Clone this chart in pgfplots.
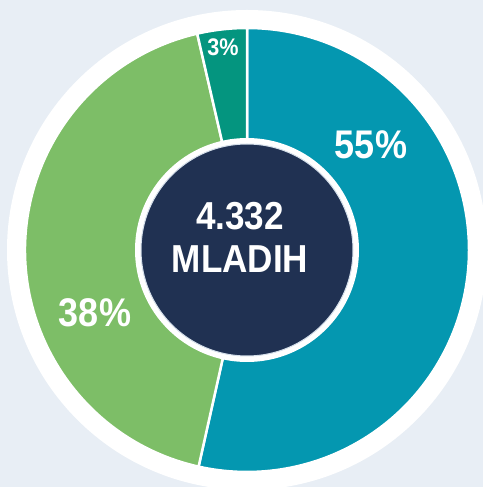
\documentclass[border=0pt]{standalone}
\usepackage{fontspec}
\setmainfont{Liberation Sans}
\usepackage{pgfplots}
\usepackage{pgfplotstable}
\pgfplotsset{compat=1.18}

\definecolor{bgc}{HTML}{E8EEF5}
\definecolor{cteal}{HTML}{0497B0}
\definecolor{cgreen}{HTML}{7DBE67}
\definecolor{cdark}{HTML}{04957F}
\definecolor{cnavy}{HTML}{203152}
\definecolor{cedge}{HTML}{D5DFEA}

% share of the circle as drawn (clockwise from 12 o'clock), printed label
\pgfplotstableread{
share label
53.5  55
42.9  38
3.6   3
}\slices

\pgfplotstablegetelem{0}{share}\of\slices \let\sA\pgfplotsretval
\pgfplotstablegetelem{1}{share}\of\slices \let\sB\pgfplotsretval
\pgfplotstablegetelem{2}{share}\of\slices \let\sC\pgfplotsretval
\pgfmathsetmacro\aA{90-3.6*\sA}
\pgfmathsetmacro\aB{\aA-3.6*\sB}
\pgfmathsetmacro\aC{\aB-3.6*\sC}

\newcommand{\lbl}[2]{\fontsize{#1}{#1}\selectfont\bfseries\scalebox{0.9}[1]{#2}}

\begin{document}
\begin{tikzpicture}
\begin{axis}[
    width=483pt, height=487pt,
    scale only axis,
    xmin=0, xmax=483, ymin=0, ymax=487,
    axis lines=none,
    ticks=none,
    axis background/.style={fill=bgc},
]
    % outer white ring
    \fill[white] (axis cs:247,237) circle[radius=240pt];
    % slices
    \filldraw[fill=cteal, draw=white, line width=2.5pt]
        (axis cs:247,237) -- ++(90:222pt) arc[start angle=90, end angle=\aA, radius=222pt] -- cycle;
    \filldraw[fill=cgreen, draw=white, line width=2.5pt]
        (axis cs:247,237) -- ++(\aA:222pt) arc[start angle=\aA, end angle=\aB, radius=222pt] -- cycle;
    \filldraw[fill=cdark, draw=white, line width=2.5pt]
        (axis cs:247,237) -- ++(\aB:222pt) arc[start angle=\aB, end angle=\aC, radius=222pt] -- cycle;
    % centre
    \fill[white] (axis cs:247,237) circle[radius=112pt];
    \filldraw[fill=cnavy, draw=cedge, line width=1pt] (axis cs:247,237) circle[radius=106pt];
    % labels
    \node[text=white, inner sep=0pt] at (axis cs:371,342) {\lbl{40}{55\%}};
    \node[text=white, inner sep=0pt] at (axis cs:95,174.5) {\lbl{40}{38\%}};
    \node[text=white, inner sep=0pt] at (axis cs:223,439.5) {\lbl{24}{3\%}};
    \node[text=white, inner sep=0pt] at (axis cs:240,271) {\lbl{39}{4.332}};
    \node[text=white, inner sep=0pt] at (axis cs:240,228) {\lbl{39}{MLADIH}};
\end{axis}
\end{tikzpicture}
\end{document}
